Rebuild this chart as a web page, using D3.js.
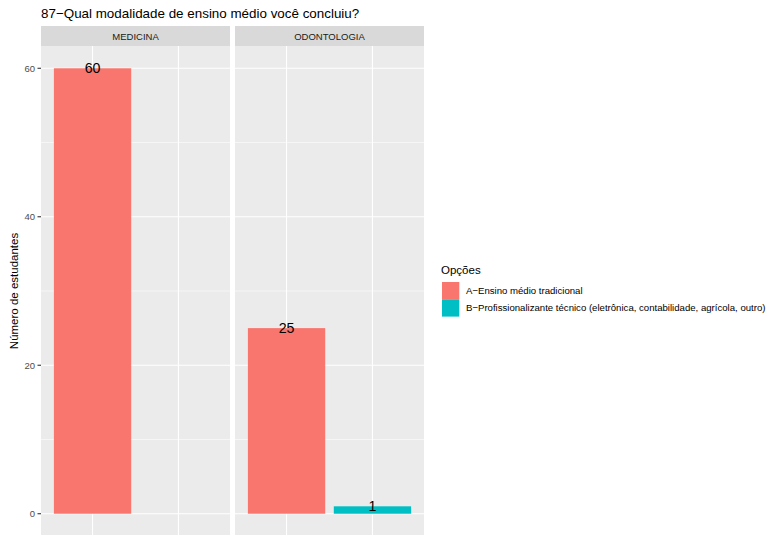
<!DOCTYPE html>
<html><head><meta charset="utf-8">
<script src="https://cdn.jsdelivr.net/npm/d3@7"></script>
<style>body{margin:0;background:#fff}svg{display:block;font-family:"Liberation Sans",Arial,sans-serif}</style>
</head><body><svg id="c" width="771" height="535"></svg>
<script>
const title = "87−Qual modalidade de ensino médio você concluiu?";
const facets = ["MEDICINA", "ODONTOLOGIA"];
const options = ["A−Ensino médio tradicional", "B−Profissionalizante técnico (eletrônica, contabilidade, agrícola, outro)"];
const colors = ["#F8766D", "#00BFC4"];
const medicinaValues = [60, null];
const odontologiaValues = [25, 1];
const yTicks = [0, 20, 40, 60];
const yMinor = [10, 30, 50];
const yTitle = "Número de estudantes";
const legendTitle = "Opções";

const svg = d3.select("#c");
const panelW = 189, panelTop = 46, panelBottom = 536, stripH = 20;
const panelX = [41, 235];
const y = d3.scaleLinear().domain([-3, 63]).range([panelBottom, panelTop]);
// discrete ggplot: positions 1,2 in [0.4,2.6]
const xc = d3.scaleLinear().domain([0.4, 2.6]).range([0, panelW]);
const bw = xc(1.45) - xc(1);

svg.append("text").attr("x", 41).attr("y", 18).attr("font-size", 13.4).attr("fill", "#000").text(title);

const data = [medicinaValues, odontologiaValues];
facets.forEach((f, i) => {
  const g = svg.append("g").attr("transform", `translate(${panelX[i]},0)`);
  g.append("rect").attr("x", 0).attr("y", 26).attr("width", panelW).attr("height", panelTop - 26).attr("fill", "#D9D9D9");
  g.append("text").attr("x", panelW/2).attr("y", 39.5).attr("text-anchor", "middle").attr("font-size", 9.5).attr("fill", "#1A1A1A").text(f);
  g.append("rect").attr("x", 0).attr("y", panelTop).attr("width", panelW).attr("height", panelBottom - panelTop).attr("fill", "#EBEBEB");
  yMinor.forEach(t => g.append("line").attr("x1", 0).attr("x2", panelW).attr("y1", y(t)).attr("y2", y(t)).attr("stroke", "#fff").attr("stroke-width", 0.55));
  yTicks.forEach(t => g.append("line").attr("x1", 0).attr("x2", panelW).attr("y1", y(t)).attr("y2", y(t)).attr("stroke", "#fff").attr("stroke-width", 1.1));
  [1, 2].forEach(p => g.append("line").attr("x1", xc(p)).attr("x2", xc(p)).attr("y1", panelTop).attr("y2", panelBottom).attr("stroke", "#fff").attr("stroke-width", 1.1));
  data[i].forEach((v, j) => {
    if (v == null) return;
    const cx = xc(j + 1);
    g.append("rect").attr("x", cx - bw).attr("width", 2*bw).attr("y", y(v)).attr("height", y(0) - y(v)).attr("fill", colors[j]);
    g.append("text").attr("x", cx).attr("y", y(v)).attr("dy", "0.36em").attr("text-anchor", "middle").attr("font-size", 14.2).attr("fill", "#000").text(v);
  });
});

// y axis
const ax = svg.append("g");
yTicks.forEach(t => {
  ax.append("line").attr("x1", 37.5).attr("x2", 41).attr("y1", y(t)).attr("y2", y(t)).attr("stroke", "#333").attr("stroke-width", 1.1);
  ax.append("text").attr("x", 35).attr("y", y(t)).attr("dy", "0.35em").attr("text-anchor", "end").attr("font-size", 9.5).attr("fill", "#4D4D4D").text(t);
});
svg.append("text").attr("transform", `translate(18,${(panelTop+panelBottom)/2}) rotate(-90)`).attr("text-anchor", "middle").attr("font-size", 11.5).attr("fill", "#000").text(yTitle);

// legend
const lg = svg.append("g");
lg.append("text").attr("x", 441).attr("y", 274).attr("font-size", 11.5).attr("fill", "#000").text(legendTitle);
options.forEach((o, i) => {
  lg.append("rect").attr("x", 442).attr("y", 282 + i*17.3).attr("width", 17.3).attr("height", 17.3).attr("fill", colors[i]);
  lg.append("text").attr("x", 466).attr("y", 282 + i*17.3 + 8.65).attr("dy", "0.35em").attr("font-size", 9.6).attr("fill", "#000").text(o);
});
</script></body></html>
